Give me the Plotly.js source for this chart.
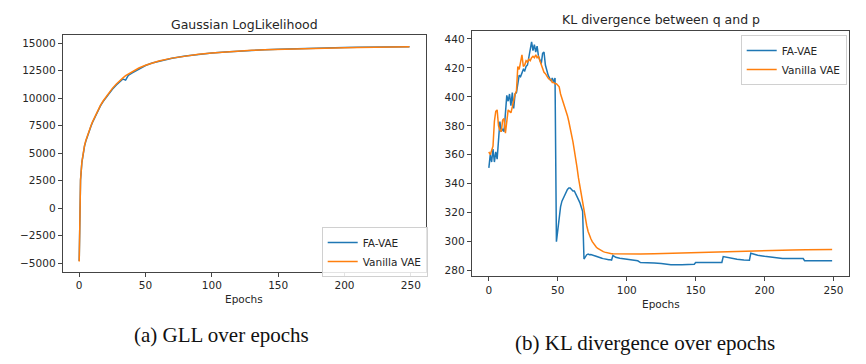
<!DOCTYPE html>
<html>
<head>
<meta charset="utf-8">
<script src="https://cdn.plot.ly/plotly-3.0.1.min.js"></script>
<style>html,body{margin:0;padding:0;background:#fff;}#chart{width:866px;height:364px;}</style>
</head>
<body>
<div id="chart"></div>
<script>
// ---- Data: Gaussian LogLikelihood ----
const gllEpochs = [0,1,2,3,4,5,6,7,8,9,10,12,14,16,18,20,22,25,28,30,33,35,37,40,45,50,55,60,70,80,90,100,110,120,130,140,150,160,170,180,190,200,210,220,230,240,249];
const gllFA = [-4800,2550,4150,5050,5650,6100,6500,6850,7200,7500,7800,8350,8850,9300,9700,10050,10400,10820,11200,11450,11750,11650,12080,12300,12680,12980,13200,13370,13640,13840,13990,14110,14210,14300,14370,14420,14460,14500,14530,14560,14590,14610,14630,14645,14660,14670,14680];
const gllVanilla = [-4850,2600,4200,5100,5700,6150,6550,6900,7250,7550,7850,8400,8900,9350,9750,10100,10450,10900,11300,11550,11850,12050,12200,12400,12750,13000,13200,13380,13650,13850,14000,14120,14220,14300,14360,14410,14450,14490,14520,14550,14580,14600,14620,14640,14655,14670,14680];

// ---- Data: KL divergence between q and p ----
const klFAEpochs = [0,1,2,3,4,5,6,7,8,9,10,11,12,13,14,15,16,17,18,19,20,21,22,23,24,25,26,27,28,29,30,31,32,33,34,35,36,37,38,39,40,41,42,43,44,45,46,47,48,49,50,51,52,53,54,55,56,57,58,59,60,61,62,63,64,65,66,67,68,69,70,71,72,73,74,75,76,77,78,79,80,81,82,83,84,85,86,87,88,89,90,91,92,95,100,105,108,110,115,120,125,130,132,140,145,149,150,160,169,170,175,180,185,189,190,195,200,205,210,213,220,228,229,235,240,245,249];
const klFA = [351,360,355,364,355,362,357,368,383,376,378,376,386,401,397,402,394,403,392,402,403,410,415,414,416,419,418,421,422,428,431,438,432,436,431,435,428,425,423,430,431,422,418,415,413,411,413,410,413,300,308,318,324,328,330,333,335,336,337,337,336,335,335,333,332,330,327,324,321,288,290,291,291.5,291,291.2,290.8,290.5,290,289.8,289.2,289,288.8,288.5,288.3,288,288,287.8,287.6,287.5,287.3,290.5,289.8,289.2,288.6,288,287.2,286.8,285.6,285.2,285.3,285,284.6,284,284.1,284.3,284.4,285.6,285.6,285.7,289.7,288.6,287.8,287.4,287.2,292,290.6,289.9,289.3,289,288.4,288.3,288.3,286.9,286.9,287,287,286.9];
const klVanillaEpochs = [0,1,2,3,4,5,6,7,8,9,10,11,12,13,14,15,16,17,18,19,20,21,22,23,24,25,26,27,28,29,30,31,32,33,34,35,36,37,38,39,40,41,42,43,44,45,46,47,48,49,50,51,52,53,54,55,56,57,58,59,60,61,62,63,64,65,66,67,68,69,70,71,72,73,74,75,76,77,78,79,80,81,82,83,84,85,86,87,88,89,90,95,100,110,120,130,140,150,160,170,180,190,200,210,220,230,240,249];
const klVanilla = [362,360,363,366,383,390,391,380,377,376,384,385,375,385,391,390,389,393,398,402,404,421,419,423,429,421,422,425,424,426,425,427,428,427,429,427,428,425,422,420,417,416,414,413,412,412,410,410,409,409,408,407,402,399,396,394,390,387,383,379,374,369,363,358,351,344,338,332,327,321,316,311,307,304,302,300,298.5,297.2,296.2,295.3,294.6,294,293.5,293.1,292.8,292.5,292.2,292,291.8,291.7,291.6,291.5,291.5,291.5,291.7,292,292.3,292.6,292.9,293.2,293.4,293.6,293.8,294,294.2,294.4,294.5,294.6];

const seriesNames = ['FA-VAE', 'Vanilla VAE'];
const gllTicks = [-5000,-2500,0,2500,5000,7500,10000,12500,15000];
const gllTickText = ['\u22125000','\u22122500','0','2500','5000','7500','10000','12500','15000'];
const klTicks = [280,300,320,340,360,380,400,420,440];
const epochTicks = [0,50,100,150,200,250];

const titles = ['Gaussian LogLikelihood', 'KL divergence between q and p'];
const xLabel = 'Epochs';
const captions = ['(a) GLL over epochs', '(b) KL divergence over epochs'];

const W = 866, H = 364;
const BLUE = '#1f77b4', ORANGE = '#ff7f0e';
const TXT = '#262626';
const FONT = 'DejaVu Sans';

const px = (x) => x / W;
const py = (y) => 1 - y / H;

const traces = [
  {x: gllEpochs, y: gllFA, name: seriesNames[0], type: 'scatter', mode: 'lines', line: {color: BLUE, width: 1.5}, xaxis: 'x', yaxis: 'y', legend: 'legend'},
  {x: gllEpochs, y: gllVanilla, name: seriesNames[1], type: 'scatter', mode: 'lines', line: {color: ORANGE, width: 1.5}, xaxis: 'x', yaxis: 'y', legend: 'legend'},
  {x: klFAEpochs, y: klFA, name: seriesNames[0], type: 'scatter', mode: 'lines', line: {color: BLUE, width: 1.5}, xaxis: 'x2', yaxis: 'y2', legend: 'legend2'},
  {x: klVanillaEpochs, y: klVanilla, name: seriesNames[1], type: 'scatter', mode: 'lines', line: {color: ORANGE, width: 1.5}, xaxis: 'x2', yaxis: 'y2', legend: 'legend2'}
];

const axisCommon = {
  showline: true, mirror: true, linecolor: '#444', linewidth: 1,
  ticks: 'outside', ticklen: 4, tickwidth: 1, tickcolor: '#444',
  showgrid: false, zeroline: false,
  tickfont: {family: FONT, size: 10.5, color: TXT}
};

const legendCommon = {
  font: {family: FONT, size: 10.5, color: TXT},
  bgcolor: 'rgba(255,255,255,0.85)', bordercolor: '#d0d0d0', borderwidth: 1,
  xanchor: 'left', yanchor: 'top', itemwidth: 30, tracegroupgap: 0
};

const layout = {
  width: W, height: H,
  margin: {l: 0, r: 0, t: 0, b: 0},
  paper_bgcolor: '#fff', plot_bgcolor: '#fff',
  showlegend: true,
  xaxis: Object.assign({}, axisCommon, {domain: [px(62.7), px(426)], range: [-12.45, 261.45], tickvals: epochTicks, anchor: 'y'}),
  yaxis: Object.assign({}, axisCommon, {domain: [py(271.7), py(35.3)], range: [-5776, 15726], tickvals: gllTicks, ticktext: gllTickText, anchor: 'x'}),
  xaxis2: Object.assign({}, axisCommon, {domain: [px(471.7), px(849.3)], range: [-12.45, 261.45], tickvals: epochTicks, anchor: 'y2'}),
  yaxis2: Object.assign({}, axisCommon, {domain: [py(276), py(30.7)], range: [276.3, 445.7], tickvals: klTicks, anchor: 'x2'}),
  legend: Object.assign({}, legendCommon, {x: px(321.7), y: py(227)}),
  legend2: Object.assign({}, legendCommon, {x: px(740.7), y: py(35)}),
  annotations: [
    {text: titles[0], x: px(244), y: py(25), xref: 'paper', yref: 'paper', showarrow: false, xanchor: 'center', yanchor: 'middle', font: {family: FONT, size: 12.5, color: TXT}},
    {text: titles[1], x: px(660.5), y: py(19.5), xref: 'paper', yref: 'paper', showarrow: false, xanchor: 'center', yanchor: 'middle', font: {family: FONT, size: 12.5, color: TXT}},
    {text: xLabel, x: px(244), y: py(299), xref: 'paper', yref: 'paper', showarrow: false, xanchor: 'center', yanchor: 'middle', font: {family: FONT, size: 10.5, color: TXT}},
    {text: xLabel, x: px(660.5), y: py(304), xref: 'paper', yref: 'paper', showarrow: false, xanchor: 'center', yanchor: 'middle', font: {family: FONT, size: 10.5, color: TXT}},
    {text: captions[0], x: px(221), y: py(335), xref: 'paper', yref: 'paper', showarrow: false, xanchor: 'center', yanchor: 'middle', font: {family: 'Liberation Serif', size: 21, color: '#111'}},
    {text: captions[1], x: px(645), y: py(343), xref: 'paper', yref: 'paper', showarrow: false, xanchor: 'center', yanchor: 'middle', font: {family: 'Liberation Serif', size: 21, color: '#111'}}
  ]
};

Plotly.newPlot('chart', traces, layout, {displayModeBar: false, staticPlot: true});
</script>
</body>
</html>
